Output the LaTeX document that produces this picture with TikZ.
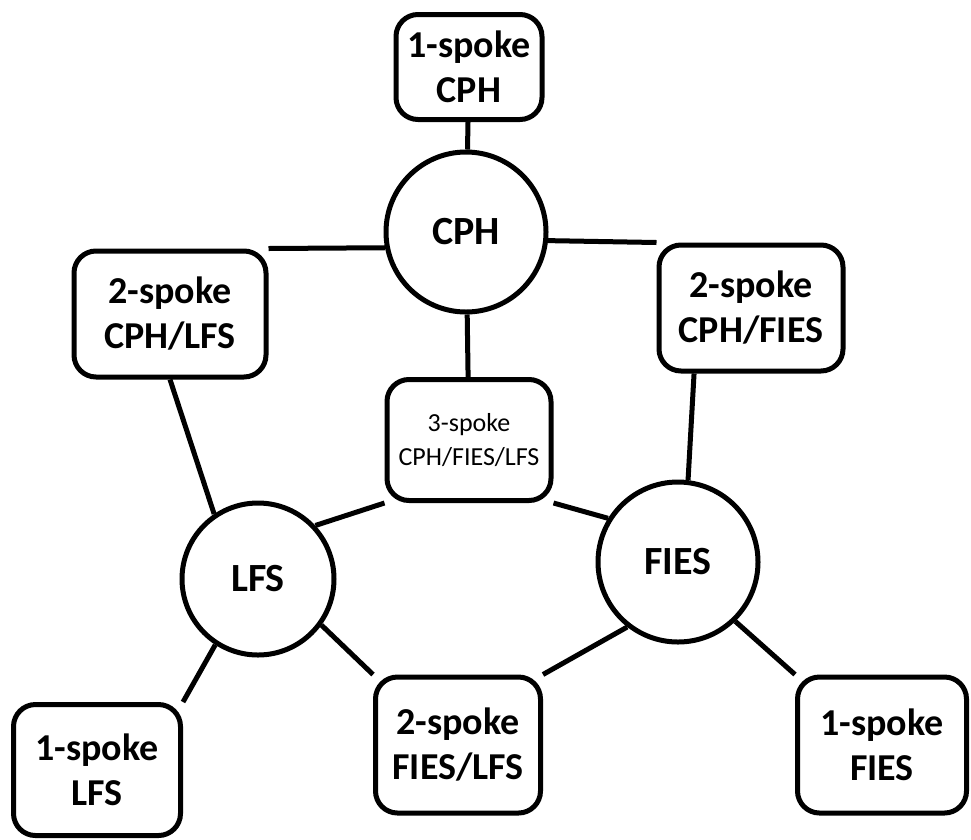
\documentclass[tikz,border=0pt]{standalone}
\usepackage{fontspec}
\setmainfont{Carlito}

\begin{document}
\begin{tikzpicture}[x=1pt, y=-1pt,
  hub/.style={circle, draw, line width=5pt, inner sep=0pt,
    font=\fontsize{40}{46}\selectfont\bfseries},
  spoke/.style={rectangle, rounded corners=22pt, draw, line width=5pt,
    inner sep=0pt, align=center, font=\fontsize{38}{45}\selectfont\bfseries},
  link/.style={line width=5pt}]
\useasboundingbox (0,0) rectangle (971,839);
% hubs
\node[hub, minimum size=160pt] (CPH) at (466,232) {CPH};
\node[hub, minimum size=152pt] (LFS) at (258,579) {LFS};
\node[hub, minimum size=160pt] (FIES) at (678,562) {FIES};
% spokes
\node[spoke, minimum width=146pt, minimum height=105pt] (OneC) at (469,67) {1-spoke\\CPH};
\node[spoke, minimum width=192pt, minimum height=126pt] (TwoCL) at (170,314) {2-spoke\\CPH/LFS};
\node[spoke, minimum width=184pt, minimum height=126pt] (TwoCF) at (751,308) {2-spoke\\CPH/FIES};
\node[spoke, minimum width=164pt, minimum height=121pt,
  font=\fontsize{26}{34}\selectfont] (Three) at (469,440) {3-spoke\\CPH/FIES/LFS};
\node[spoke, minimum width=167pt, minimum height=131pt] (OneL) at (97,770) {1-spoke\\LFS};
\node[spoke, minimum width=165pt, minimum height=136pt] (TwoFL) at (458,745) {2-spoke\\FIES/LFS};
\node[spoke, minimum width=169pt, minimum height=136pt] (OneF) at (882,745) {1-spoke\\FIES};
% links
\draw[link] (OneC) -- (CPH);
\draw[link] (CPH.191) -- (TwoCL.north east);
\draw[link] (CPH.-6) -- (TwoCF.north west);
\draw[link] (CPH) -- (Three);
\draw[link] (TwoCL.south) -- (LFS.124);
\draw[link] (TwoCF.229) -- (FIES.83);
\draw[link] (Three.south west) -- (LFS.43);
\draw[link] (Three.south east) -- (FIES.148);
\draw[link] (LFS.237) -- (OneL.north east);
\draw[link] (LFS.-36) -- (TwoFL.north west);
\draw[link] (FIES.232) -- (TwoFL.north east);
\draw[link] (FIES.-46) -- (OneF.north west);
\end{tikzpicture}
\end{document}
